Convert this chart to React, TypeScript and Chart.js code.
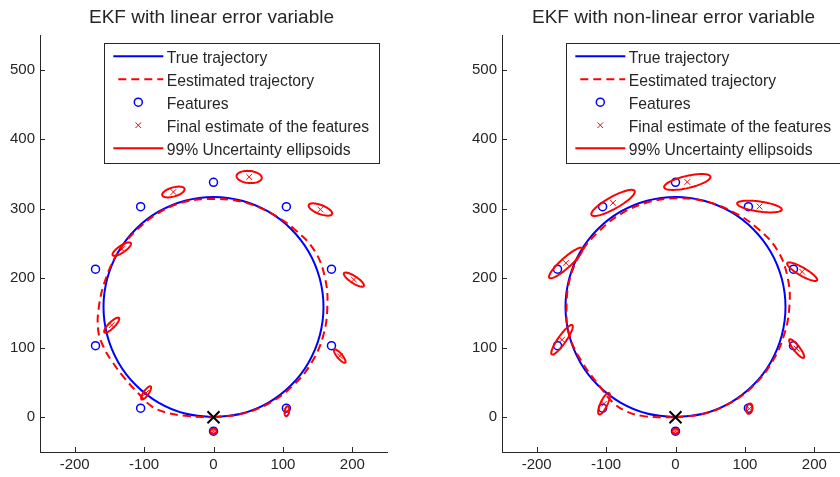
import React, { useEffect, useRef } from 'react';
import { Chart, registerables } from 'chart.js';

Chart.register(...registerables);

// ---------- data ----------
const TITLES = ['EKF with linear error variable', 'EKF with non-linear error variable'];
const LEGEND_LABELS = [
  'True trajectory',
  'Eestimated trajectory',
  'Features',
  'Final estimate of the features',
  '99% Uncertainty ellipsoids',
];
const X_TICKS = [-200, -100, 0, 100, 200];
const Y_TICKS = [0, 100, 200, 300, 400, 500];

const TRUE_X = [0, 41, 79.3, 112.1, 137.3, 153.1, 158.5, 153.1, 137.3, 112.1, 79.3, 41, 0, -41, -79.3, -112.1, -137.3, -153.1, -158.5, -153.1, -137.3, -112.1, -79.3, -41, 0];
const TRUE_Y = [0, 5.4, 21.2, 46.4, 79.3, 117.5, 158.5, 199.5, 237.8, 270.6, 295.8, 311.6, 317, 311.6, 295.8, 270.6, 237.8, 199.5, 158.5, 117.5, 79.3, 46.4, 21.2, 5.4, 0];

const FEAT_X = [0, 105, 170, 170, 105, 0, -105, -170, -170, -105];
const FEAT_Y = [338, 303, 213, 103, 13, -20, 13, 103, 213, 303];

const START_X = [0];
const START_Y = [0];

// linear error variable
const LIN_TRAJ_X = [0, 41, 80, 114, 141, 158, 164, 161, 146, 116, 80, 41, 0, -41, -79, -111, -137, -155, -165, -166, -158, -146, -128, -107, -88, -65, -40, -18, 0];
const LIN_TRAJ_Y = [0, 5, 20, 45, 78, 117, 158, 199, 239, 271, 295, 310, 314, 310, 294, 269, 238, 200, 160, 124, 100, 80, 56, 33, 15, 6, 2, 0.5, 0];
const LIN_EST_X = [51.4, 154, 202.3, 181.9, 105.8, 0, -97.1, -146.7, -132.2, -57.8];
const LIN_EST_Y = [345.7, 298.9, 198, 88, 8.7, -20, 35, 132.5, 241.9, 324.1];
const LIN_ELL_A = [18.2, 18, 17, 12.3, 7.2, 4.3, 11.4, 14.8, 15.7, 16.7];
const LIN_ELL_B = [8.7, 6.5, 5, 3.6, 3.2, 3.6, 3.6, 4.3, 5, 6.5];
const LIN_ELL_ANG = [-5, -21, -33, -50, 80, 0, 55, 45, 34, 16];

// non-linear error variable
const NL_TRAJ_X = [0, 41, 80, 113, 139, 156, 164, 162, 147, 118, 82, 41, 0, -41, -78, -110, -136, -152, -157, -153, -135, -108, -90, -70, -48, -25, 0];
const NL_TRAJ_Y = [0, 5, 21, 46, 79, 117, 158, 199, 240, 272, 296, 311, 315, 309, 293, 268, 237, 200, 158, 118, 80, 43, 21, 8, 2, 0, 0];
const NL_EST_X = [17, 121, 182.5, 174.6, 106.5, 0, -103, -163.5, -158, -90];
const NL_EST_Y = [338.5, 303.2, 209.4, 98.8, 12.3, -20, 19.5, 111.5, 222, 308.4];
const NL_ELL_A = [34.2, 32.5, 24.8, 16.7, 7.5, 4.3, 17, 25.8, 32, 35.5];
const NL_ELL_B = [8.7, 7.2, 5.8, 4.3, 4.3, 3.6, 5, 5.8, 7.2, 8.7];
const NL_ELL_ANG = [13, -8, -30, -52, 80, 0, 65, 55, 42, 29];

// ---------- styles ----------
const BLUE = '#0000ff';
const RED = '#ff0000';
const AXIS = '#262626';
const TEXT = '#262626';
const FONT = "'Liberation Sans', Arial, Helvetica, sans-serif";

type Panel = {
  title: string;
  trajX: number[];
  trajY: number[];
  estX: number[];
  estY: number[];
  ellA: number[];
  ellB: number[];
  ellAng: number[];
};

const PANELS: Panel[] = [
  { title: TITLES[0], trajX: LIN_TRAJ_X, trajY: LIN_TRAJ_Y, estX: LIN_EST_X, estY: LIN_EST_Y, ellA: LIN_ELL_A, ellB: LIN_ELL_B, ellAng: LIN_ELL_ANG },
  { title: TITLES[1], trajX: NL_TRAJ_X, trajY: NL_TRAJ_Y, estX: NL_EST_X, estY: NL_EST_Y, ellA: NL_ELL_A, ellB: NL_ELL_B, ellAng: NL_ELL_ANG },
];

const pts = (xs: number[], ys: number[]) => xs.map((x, i) => ({ x, y: ys[i] }));

function makeConfig(p: Panel): any {
  const ellipsePlugin = {
    id: 'ellipses',
    afterDatasetsDraw(chart: any) {
      const { ctx, chartArea: ca, scales } = chart;
      const sx = scales.x;
      const sy = scales.y;
      ctx.save();
      ctx.beginPath();
      ctx.rect(ca.left, ca.top, ca.right - ca.left, ca.bottom - ca.top);
      ctx.clip();
      ctx.strokeStyle = RED;
      ctx.lineWidth = 2;
      ctx.lineJoin = 'round';
      p.estX.forEach((cx, i) => {
        const cy = p.estY[i];
        const a = p.ellA[i];
        const b = p.ellB[i];
        const th = (p.ellAng[i] * Math.PI) / 180;
        ctx.beginPath();
        const N = 64;
        for (let k = 0; k <= N; k++) {
          const t = (k / N) * Math.PI * 2;
          const dx = a * Math.cos(th) * Math.cos(t) - b * Math.sin(th) * Math.sin(t);
          const dy = a * Math.sin(th) * Math.cos(t) + b * Math.cos(th) * Math.sin(t);
          const px = sx.getPixelForValue(cx + dx);
          const py = sy.getPixelForValue(cy + dy);
          if (k === 0) ctx.moveTo(px, py);
          else ctx.lineTo(px, py);
        }
        ctx.closePath();
        ctx.stroke();
      });
      ctx.restore();
    },
  };

  const decorPlugin = {
    id: 'decor',
    afterDraw(chart: any) {
      const { ctx, chartArea: ca, scales } = chart;
      const sx = scales.x;
      const sy = scales.y;
      ctx.save();
      // inward tick marks
      ctx.strokeStyle = AXIS;
      ctx.lineWidth = 1;
      ctx.beginPath();
      X_TICKS.forEach((v) => {
        const px = Math.round(sx.getPixelForValue(v)) + 0.5;
        ctx.moveTo(px, ca.bottom);
        ctx.lineTo(px, ca.bottom - 5);
      });
      Y_TICKS.forEach((v) => {
        const py = Math.round(sy.getPixelForValue(v)) + 0.5;
        ctx.moveTo(ca.left, py);
        ctx.lineTo(ca.left + 5, py);
      });
      ctx.stroke();

      // title
      ctx.fillStyle = TEXT;
      ctx.font = `19px ${FONT}`;
      ctx.textAlign = 'center';
      ctx.textBaseline = 'alphabetic';
      ctx.fillText(p.title, (ca.left + ca.right) / 2 - 2, 22.5);

      // legend box
      const right = ca.right - 8;
      const top = ca.top + 8;
      const w = 275;
      const h = 119.5;
      const left = right - w;
      ctx.fillStyle = '#ffffff';
      ctx.fillRect(left, top, w, h);
      ctx.strokeStyle = AXIS;
      ctx.lineWidth = 1;
      ctx.strokeRect(Math.round(left) + 0.5, Math.round(top) + 0.5, Math.round(w), Math.round(h));

      const rowY = (i: number) => top + 13.2 + i * 23;
      const x0 = left + 9.3;
      const x1 = left + 59.3;
      const mx = left + 34.3;
      // true trajectory
      ctx.lineWidth = 2;
      ctx.strokeStyle = BLUE;
      ctx.beginPath();
      ctx.moveTo(x0, rowY(0));
      ctx.lineTo(x1, rowY(0));
      ctx.stroke();
      // estimated trajectory
      ctx.strokeStyle = RED;
      ctx.setLineDash([8, 5]);
      ctx.beginPath();
      ctx.moveTo(left + 14.3, rowY(1));
      ctx.lineTo(x1, rowY(1));
      ctx.stroke();
      ctx.setLineDash([]);
      // features
      ctx.strokeStyle = BLUE;
      ctx.lineWidth = 1.5;
      ctx.beginPath();
      ctx.arc(mx, rowY(2), 4, 0, Math.PI * 2);
      ctx.stroke();
      // estimate x
      ctx.strokeStyle = RED;
      ctx.lineWidth = 1;
      ctx.beginPath();
      ctx.moveTo(mx - 2.8, rowY(3) - 2.8);
      ctx.lineTo(mx + 2.8, rowY(3) + 2.8);
      ctx.moveTo(mx - 2.8, rowY(3) + 2.8);
      ctx.lineTo(mx + 2.8, rowY(3) - 2.8);
      ctx.stroke();
      // ellipsoids
      ctx.lineWidth = 2;
      ctx.beginPath();
      ctx.moveTo(x0, rowY(4));
      ctx.lineTo(x1, rowY(4));
      ctx.stroke();

      ctx.fillStyle = TEXT;
      ctx.font = `15.7px ${FONT}`;
      ctx.textAlign = 'left';
      LEGEND_LABELS.forEach((lab, i) => {
        ctx.fillText(lab, left + 62.7, rowY(i) + 7);
      });
      ctx.restore();
    },
  };

  const tickFont = { family: FONT, size: 15 };

  return {
    type: 'scatter',
    data: {
      datasets: [
        {
          label: LEGEND_LABELS[0],
          data: pts(TRUE_X, TRUE_Y),
          showLine: true,
          borderColor: BLUE,
          borderWidth: 2,
          pointRadius: 0,
          tension: 0.4,
          fill: false,
          order: 5,
        },
        {
          label: LEGEND_LABELS[1],
          data: pts(p.trajX, p.trajY),
          showLine: true,
          borderColor: RED,
          borderWidth: 2,
          borderDash: [8, 5],
          pointRadius: 0,
          tension: 0.4,
          fill: false,
          order: 4,
        },
        {
          label: LEGEND_LABELS[2],
          data: pts(FEAT_X, FEAT_Y),
          pointStyle: 'circle',
          pointRadius: 4,
          borderWidth: 1.5,
          pointBorderWidth: 1.5,
          borderColor: BLUE,
          pointBorderColor: BLUE,
          backgroundColor: 'rgba(0,0,0,0)',
          pointBackgroundColor: 'rgba(0,0,0,0)',
          order: 3,
        },
        {
          label: LEGEND_LABELS[3],
          data: pts(p.estX, p.estY),
          pointStyle: 'crossRot',
          pointRadius: 4,
          borderWidth: 1,
          pointBorderWidth: 1,
          borderColor: RED,
          pointBorderColor: RED,
          order: 2,
        },
        {
          label: 'start',
          data: pts(START_X, START_Y),
          pointStyle: 'crossRot',
          pointRadius: 8.5,
          borderWidth: 2,
          pointBorderWidth: 2,
          borderColor: '#000000',
          pointBorderColor: '#000000',
          order: 0,
        },
      ],
    },
    options: {
      animation: false,
      responsive: false,
      events: [],
      layout: { padding: { top: 35, right: 33, bottom: 0, left: 0 } },
      plugins: {
        legend: { display: false },
        title: { display: false },
        tooltip: { enabled: false },
      },
      scales: {
        x: {
          type: 'linear',
          min: -250,
          max: 250,
          afterBuildTicks: (s: any) => {
            s.ticks = X_TICKS.map((v) => ({ value: v }));
          },
          afterFit: (s: any) => {
            s.height = 25;
          },
          grid: { display: false, drawTicks: false },
          border: { display: true, color: AXIS, width: 1 },
          ticks: { font: tickFont, color: TEXT, padding: 4, maxRotation: 0, autoSkip: false },
        },
        y: {
          type: 'linear',
          min: -50,
          max: 550,
          afterBuildTicks: (s: any) => {
            s.ticks = Y_TICKS.map((v) => ({ value: v }));
          },
          afterFit: (s: any) => {
            s.width = 40;
          },
          grid: { display: false, drawTicks: false },
          border: { display: true, color: AXIS, width: 1 },
          ticks: { font: tickFont, color: TEXT, padding: 5, autoSkip: false },
        },
      },
    },
    plugins: [ellipsePlugin, decorPlugin],
  };
}

function PanelChart({ panel }: { panel: Panel }) {
  const ref = useRef<HTMLCanvasElement | null>(null);
  useEffect(() => {
    if (!ref.current) return;
    const chart = new Chart(ref.current, makeConfig(panel));
    return () => chart.destroy();
  }, [panel]);
  return <canvas ref={ref} width={420} height={477} style={{ display: 'block', width: 420, height: 477 }} />;
}

export default function App() {
  return (
    <div
      style={{
        position: 'fixed',
        left: 0,
        top: 0,
        width: 840,
        height: 477,
        overflow: 'hidden',
        background: '#ffffff',
      }}
    >
      <div style={{ position: 'absolute', left: 0, top: 0, width: 420, height: 477 }}>
        <PanelChart panel={PANELS[0]} />
      </div>
      <div style={{ position: 'absolute', left: 462, top: 0, width: 420, height: 477 }}>
        <PanelChart panel={PANELS[1]} />
      </div>
    </div>
  );
}
